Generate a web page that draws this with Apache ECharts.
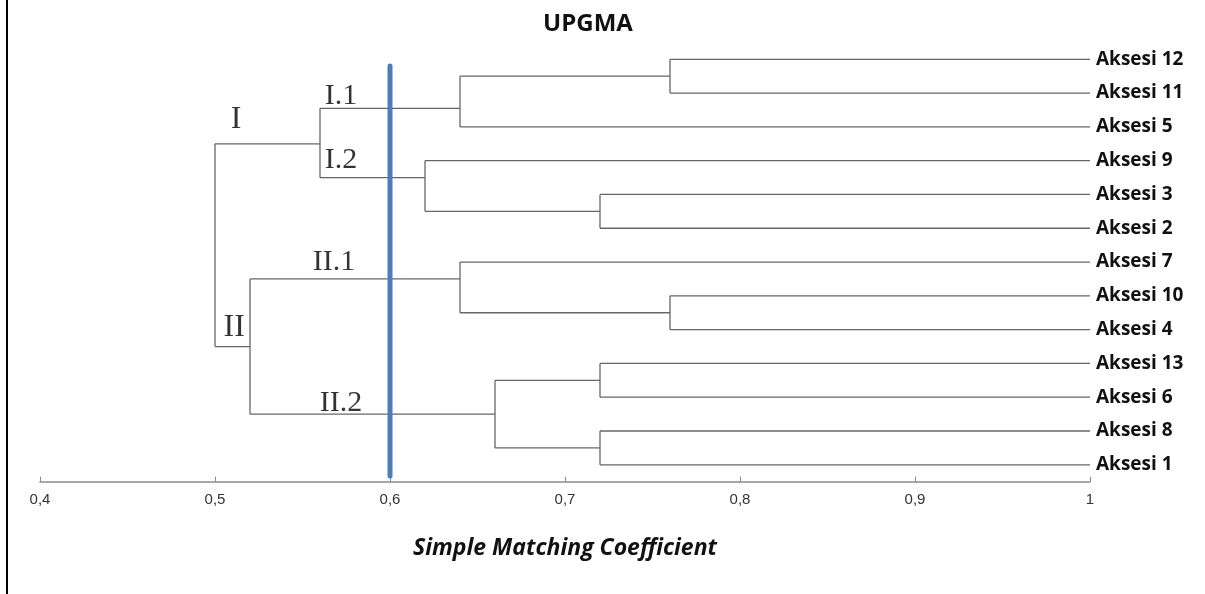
<!DOCTYPE html>
<html>
<head>
<meta charset="utf-8">
<script src="https://cdn.jsdelivr.net/npm/echarts@6/dist/echarts.min.js"></script>
<style>
html,body{margin:0;padding:0;background:#fff;}
#chart{width:1205px;height:594px;}
</style>
</head>
<body>
<div id="chart"></div>
<script>
// ---- data ----
const titleText = 'UPGMA';
const axisTitle = 'Simple Matching Coefficient';
const leafNames = ['Aksesi 12','Aksesi 11','Aksesi 5','Aksesi 9','Aksesi 3','Aksesi 2','Aksesi 7','Aksesi 10','Aksesi 4','Aksesi 13','Aksesi 6','Aksesi 8','Aksesi 1'];
const leafSimilarity = 1.0;
const clusterIds = ['A','B','C','D','E','F','G','H','I','J','K','ROOT'];
const clusterChildren = [
  ['Aksesi 12','Aksesi 11'], ['A','Aksesi 5'], ['Aksesi 3','Aksesi 2'], ['Aksesi 9','C'],
  ['B','D'], ['Aksesi 10','Aksesi 4'], ['Aksesi 7','F'], ['Aksesi 13','Aksesi 6'],
  ['Aksesi 8','Aksesi 1'], ['H','I'], ['G','J'], ['E','K']
];
const clusterSimilarity = [0.76, 0.64, 0.72, 0.62, 0.56, 0.76, 0.64, 0.72, 0.72, 0.66, 0.52, 0.50];
// row (in leaf units, 0 = top leaf) at which each cluster's stem leaves it
const clusterRow = [0.5, 1.45, 4.5, 3.5, 2.5, 7.5, 6.5, 9.5, 11.5, 10.5, 8.5, 5.5];
const cutoffValue = 0.6;
const cutoffRows = [0.2, 12.33];
const groupLabels = ['I', 'I.1', 'I.2', 'II', 'II.1', 'II.2'];
const groupLabelX = [0.512, 0.572, 0.572, 0.511, 0.568, 0.572];
const groupLabelRow = [1.77, 1.1, 2.98, 7.93, 5.99, 10.18];
const groupLabelSize = [32, 30, 30, 32, 30, 30];

// ---- build segments ----
const pos = {};
leafNames.forEach((n, i) => { pos[n] = { x: leafSimilarity, row: i }; });
clusterIds.forEach((id, i) => { pos[id] = { x: clusterSimilarity[i], row: clusterRow[i] }; });
const segments = [];
clusterIds.forEach((id, i) => {
  const h = clusterSimilarity[i];
  const kids = clusterChildren[i].map(k => pos[k]);
  segments.push([h, kids[0].row, h, kids[1].row]);
  kids.forEach(k => segments.push([k.x, k.row, h, k.row]));
});

const chart = echarts.init(document.getElementById('chart'));
chart.setOption({
  backgroundColor: '#fff',
  animation: false,
  title: {
    text: titleText, left: 583, top: 7, textAlign: 'center',
    textStyle: { fontFamily: 'Open Sans', fontWeight: 'bold', fontSize: 24, color: '#111' }
  },
  graphic: [{
    type: 'line', shape: { x1: 7, y1: 0, x2: 7, y2: 594 },
    style: { stroke: '#000', lineWidth: 2 }
  }],
  grid: { left: 40, right: 115, top: 42.4, bottom: 112.3 },
  xAxis: {
    type: 'value', min: 0.4, max: 1.0, interval: 0.1,
    name: axisTitle, nameLocation: 'middle', nameGap: 55,
    nameTextStyle: { fontFamily: 'Open Sans', fontWeight: 'bold', fontStyle: 'italic', fontSize: 23, color: '#111' },
    axisLine: { onZero: false, lineStyle: { color: '#8a8a8a', width: 1.5 } },
    axisTick: { show: true, inside: true, length: 5, lineStyle: { color: '#8a8a8a' } },
    axisLabel: {
      margin: 11, color: '#333', fontSize: 15, fontFamily: 'Liberation Sans',
      formatter: v => String(+(+v).toFixed(1)).replace('.', ',')
    },
    splitLine: { show: false }
  },
  yAxis: [{
    type: 'value', min: -0.5, max: 12.5, inverse: true, show: false
  }, {
    type: 'category', data: leafNames, inverse: true, position: 'right',
    boundaryGap: true,
    axisLine: { show: false }, axisTick: { show: false },
    axisLabel: { margin: 6, color: '#111', fontFamily: 'Open Sans', fontWeight: 'bold', fontSize: 19 }
  }],
  series: [{
    type: 'custom',
    yAxisIndex: 0,
    data: segments,
    renderItem: (params, api) => {
      const p1 = api.coord([api.value(0), api.value(1)]);
      const p2 = api.coord([api.value(2), api.value(3)]);
      return {
        type: 'line',
        shape: { x1: p1[0], y1: p1[1], x2: p2[0], y2: p2[1] },
        style: { stroke: '#666', lineWidth: 1.3 }
      };
    },
    silent: true, z: 2
  }, {
    type: 'line',
    yAxisIndex: 0,
    data: cutoffRows.map(r => [cutoffValue, r]),
    symbol: 'none',
    lineStyle: { color: '#4a7ebb', width: 5, cap: 'round' },
    silent: true, z: 3
  }, {
    type: 'scatter',
    yAxisIndex: 0,
    data: groupLabels.map((t, i) => ({
      value: [groupLabelX[i], groupLabelRow[i]], name: t,
      label: { fontSize: groupLabelSize[i] }
    })),
    symbolSize: 0,
    label: {
      show: true, position: 'inside',
      formatter: p => p.name,
      fontFamily: 'Liberation Serif', color: '#000'
    },
    silent: true, z: 4
  }]
});
</script>
</body>
</html>
